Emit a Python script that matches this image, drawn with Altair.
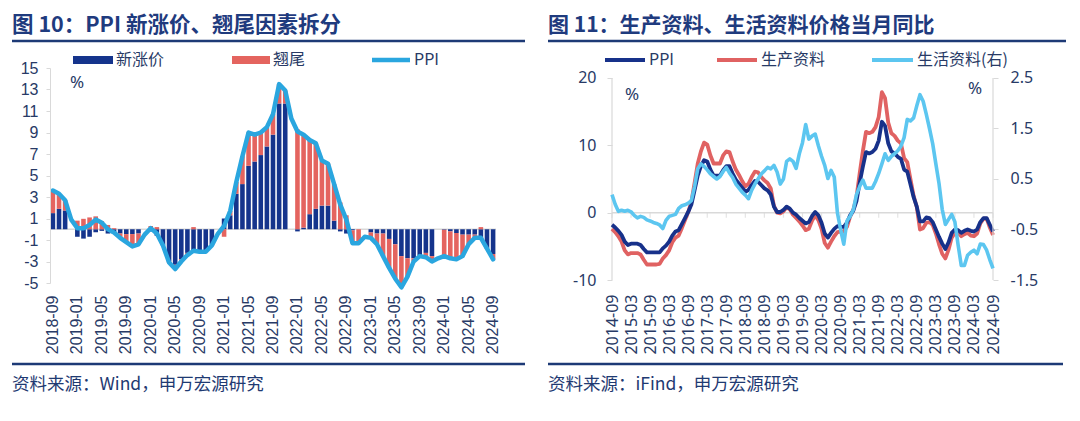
import altair as alt
import pandas as pd

# ---------------- data ----------------
left_dates = [str(p) for p in pd.period_range("2018-09", "2024-09", freq="M")]
right_dates = [str(p) for p in pd.period_range("2014-09", "2024-09", freq="M")]
left_ticks = left_dates[::4]
right_ticks = right_dates[::6]

# Fig 10: PPI, new-price factor (新涨价) and carry-over factor (翘尾)
ppi_left = [3.6, 3.3, 2.7, 0.9,
            0.1, 0.1, 0.4, 0.9, 0.6, 0.0, -0.3, -0.8, -1.2, -1.6, -1.4, -0.5,
            0.1, -0.4, -1.5, -3.1, -3.7, -3.0, -2.4, -2.0, -2.1, -2.1, -1.5, -0.4,
            0.3, 1.7, 4.4, 6.8, 9.0, 8.8, 9.0, 9.5, 10.7, 13.5, 12.9, 10.3,
            9.1, 8.8, 8.3, 8.0, 6.4, 6.1, 4.2, 2.3, 0.9, -1.3, -1.3, -0.7,
            -0.8, -1.4, -2.5, -3.6, -4.6, -5.4, -4.4, -3.0, -2.5, -2.6, -3.0, -2.7,
            -2.5, -2.7, -2.8, -2.5, -1.4, -0.8, -0.8, -1.8, -2.8]
new_price = [1.5, 1.9, 1.75, None,
             -0.7, -0.87, -0.7, -0.28, -0.15, -0.4, -0.4, -0.4, -0.45, -0.45, -0.4, None,
             -0.2, -0.6, -1.5, -3.0, -3.3, -2.8, -2.2, -2.2, -2.1, -2.0, -1.4, None,
             1.0, 1.3, 3.3, 4.2, 5.9, 6.3, 6.9, 7.7, 8.8, 11.7, 11.7, None,
             -0.2, 0.15, 1.4, 1.9, 2.2, 2.2, 0.8, -0.2, -0.4, -0.1, 0.0, None,
             -0.3, -0.4, -0.4, -0.9, -1.4, -2.5, -2.7, -2.7, -2.4, -2.2, -2.5, None,
             -0.05, -0.2, -0.35, -0.5, -0.5, -0.5, -1.0, -1.8, -2.3]
carry = [2.1, 1.3, 0.95, None,
         0.8, 0.97, 1.1, 1.2, 0.75, 0.4, 0.1, -0.4, -0.75, -1.15, -1.0, None,
         0.3, 0.2, 0.0, -0.1, -0.4, -0.2, -0.2, 0.2, 0.0, -0.1, -0.1, None,
         -0.7, 0.4, 1.1, 2.6, 3.1, 2.5, 2.1, 1.8, 1.9, 1.8, 1.2, None,
         9.3, 8.65, 6.9, 6.1, 4.2, 3.9, 3.4, 2.5, 1.3, -1.2, -1.3, None,
         -0.5, -1.0, -2.1, -2.7, -3.2, -2.9, -1.7, -0.3, -0.1, -0.4, -0.4, None,
         -2.45, -2.5, -2.4, -2.0, -0.9, -0.3, 0.2, 0.0, -0.5]

# Fig 11: PPI, producer goods (生产资料), consumer goods (生活资料, right axis)
ppi_right = [-1.8, -2.2, -2.7, -3.3,
             -4.3, -4.8, -4.6, -4.6, -4.6, -4.8, -5.4, -5.9, -5.9, -5.9, -5.9, -5.9,
             -5.3, -4.9, -4.3, -3.4, -2.8, -2.6, -1.7, -0.8, 0.1, 1.2, 3.3, 5.5,
             6.9, 7.8, 7.6, 6.4, 5.5, 5.5, 5.5, 6.3, 6.9, 6.9, 5.8, 4.9,
             4.3, 3.7, 3.1, 3.4, 4.1, 4.7, 4.6, 4.1, 3.6, 3.3, 2.7, 0.9,
             0.1, 0.1, 0.4, 0.9, 0.6, 0.0, -0.3, -0.8, -1.2, -1.6, -1.4, -0.5,
             0.1, -0.4, -1.5, -3.1, -3.7, -3.0, -2.4, -2.0, -2.1, -2.1, -1.5, -0.4,
             0.3, 1.7, 4.4, 6.8, 9.0, 8.8, 9.0, 9.5, 10.7, 13.5, 12.9, 10.3,
             9.1, 8.8, 8.3, 8.0, 6.4, 6.1, 4.2, 2.3, 0.9, -1.3, -1.3, -0.7,
             -0.8, -1.4, -2.5, -3.6, -4.6, -5.4, -4.4, -3.0, -2.5, -2.6, -3.0, -2.7,
             -2.5, -2.7, -2.8, -2.5, -1.4, -0.8, -0.8, -1.8, -2.8]
producer = [-2.4, -2.9, -3.5, -4.3,
            -5.6, -6.2, -6.0, -6.0, -6.0, -6.2, -7.0, -7.7, -7.7, -7.7, -7.7, -7.6,
            -6.8, -6.3, -5.6, -4.4, -3.7, -3.4, -2.3, -1.1, 0.1, 1.6, 4.4, 7.3,
            9.1, 10.4, 10.1, 8.5, 7.3, 7.3, 7.3, 8.5, 9.1, 9.0, 7.6, 6.4,
            5.6, 4.7, 3.9, 4.3, 5.3, 6.1, 6.0, 5.3, 4.8, 4.4, 3.6, 1.0,
            0.0, -0.1, 0.2, 0.8, 0.5, -0.3, -0.8, -1.3, -1.9, -2.6, -2.4, -1.2,
            -0.4, -1.1, -2.4, -4.5, -5.2, -4.3, -3.5, -2.9, -2.8, -2.8, -2.1, -0.6,
            0.4, 2.3, 5.8, 9.1, 12.0, 11.8, 12.0, 12.7, 14.2, 17.9, 17.0, 13.4,
            11.8, 11.4, 10.7, 10.3, 8.1, 7.5, 5.0, 2.5, 0.8, -2.5, -2.3, -1.5,
            -1.4, -1.8, -3.1, -4.7, -6.1, -6.8, -5.5, -3.7, -3.0, -3.0, -3.5, -3.2,
            -3.0, -3.4, -3.5, -3.1, -1.6, -0.9, -0.9, -2.2, -3.3]
consumer = [0.19, 0.0, -0.14, -0.12, -0.14, -0.12, -0.15, -0.22, -0.27, -0.24,
            -0.26, -0.31, -0.33, -0.36, -0.38, -0.41, -0.48, -0.32, -0.24, -0.22,
            -0.2, -0.08, -0.03, -0.01, 0.02, 0.07, 0.35, 0.7, 0.8, 0.75,
            0.68, 0.6, 0.55, 0.5, 0.55, 0.65, 0.73, 0.62, 0.53, 0.4,
            0.32, 0.24, 0.18, 0.11, 0.28, 0.4, 0.5, 0.6, 0.66, 0.73,
            0.7, 0.77, 0.64, 0.4, 0.5, 0.85, 0.9, 0.85, 0.71, 1.0,
            1.22, 1.58, 1.29, 1.35, 1.39, 1.16, 0.95, 0.77, 0.51, 0.67,
            0.54, -0.17, -0.5, -0.79, -0.33, -0.24, -0.11, 0.19, 0.35, 0.48,
            0.32, 0.32, 0.32, 0.45, 0.61, 0.8, 1.0, 0.87, 0.95, 1.0,
            1.06, 1.15, 1.32, 1.68, 1.65, 1.71, 1.95, 2.17, 2.04, 1.78,
            1.5, 1.2, 0.8, 0.41, -0.1, -0.4, -0.3, -0.2, -0.35, -0.8,
            -1.21, -1.21, -1.01, -0.95, -0.91, -0.98, -0.79, -0.8, -0.91, -1.1, -1.27]

assert len(ppi_left) == len(new_price) == len(carry) == len(left_dates)
assert len(ppi_right) == len(producer) == len(consumer) == len(right_dates)

# ---------------- styles ----------------
CJK = "Noto Sans CJK SC"
NUM_L = "Liberation Sans"
NUM_R = "Noto Sans"
TITLE_C = "#1f3b7e"
RULE_C = "#1d3a76"
LABEL_C = "#283a66"
SRC_C = "#1f3a72"
GRID = "#d9d9d9"
BAR_NAVY = "#15348c"
BAR_RED = "#e4645f"
PPI_CYAN = "#2aa6df"
LINE_NAVY = "#17318a"
LINE_RED = "#e06262"
LINE_LB = "#5cc6f0"
HYPHEN = "replace(datum.label, '\u2212', '-')"

W1, H1 = 446, 215
W2, H2 = 381, 212


def dec():
    return alt.Chart(alt.Data(values=[{"k": 1}]))


def text_mark(x, y, s, size, color, weight="normal", font=CJK, align="left"):
    return dec().mark_text(text=s, align=align, baseline="middle", font=font,
                           fontSize=size, fontWeight=weight, color=color).encode(
        x=alt.value(x), y=alt.value(y))


def hline(x1, x2, y, color, width):
    return dec().mark_rule(color=color, strokeWidth=width, strokeCap="butt").encode(
        x=alt.value(x1), x2=alt.value(x2), y=alt.value(y))


def box(x1, x2, y1, y2, color):
    return dec().mark_rect(color=color).encode(
        x=alt.value(x1), x2=alt.value(x2), y=alt.value(y1), y2=alt.value(y2))


# ---------------- left panel ----------------
rows = []
for d, n, c in zip(left_dates, new_price, carry):
    if n is not None:
        rows.append({"date": d, "series": "新涨价", "v": n, "o": 0})
    if c is not None:
        rows.append({"date": d, "series": "翘尾", "v": c, "o": 1})
df_bars = pd.DataFrame(rows)
df_ppiL = pd.DataFrame({"date": left_dates, "v": ppi_left})

xL = alt.X("date:N", sort=None,
           scale=alt.Scale(domain=left_dates, paddingInner=0.25, paddingOuter=0.1),
           axis=alt.Axis(values=left_ticks, labelAngle=270, labelPadding=12, labelFont=NUM_L,
                         labelFontSize=16, labelColor=LABEL_C, domain=False, ticks=False,
                         grid=False, title=None, labelOverlap=False, zindex=1))
axL = alt.Axis(values=list(range(-5, 16, 2)), labelFont=NUM_L, labelFontSize=16,
               labelColor=LABEL_C, domainColor=GRID, tickColor=GRID, tickSize=4,
               labelPadding=8, grid=False, title=None, zindex=1, labelExpr=HYPHEN)
scL = alt.Scale(domain=[-5, 15], nice=False, zero=False)

bg = box(-42, 1022, -60, 345, "white")
zeroL = dec().mark_rule(color=GRID, strokeWidth=1.5).encode(y=alt.YDatum(0, scale=scL, axis=axL))
bars = alt.Chart(df_bars).mark_bar().encode(
    x=xL,
    y=alt.Y("v:Q", stack="zero", scale=scL, axis=axL),
    color=alt.Color("series:N", scale=alt.Scale(domain=["新涨价", "翘尾"],
                                                range=[BAR_NAVY, BAR_RED]), legend=None),
    order=alt.Order("o:Q"),
)
lineL = alt.Chart(df_ppiL).mark_line(color=PPI_CYAN, strokeWidth=4.5, strokeJoin="round",
                                     strokeCap="round").encode(
    x=xL, y=alt.Y("v:Q", scale=scL, axis=axL))

left = alt.layer(
    bg, zeroL, bars, lineL,
    text_mark(-38, -42, "图 10：PPI 新涨价、翘尾因素拆分", 21.5, TITLE_C, "bold"),
    hline(-38, 475, -27, RULE_C, 2.5),
    hline(-38, 475, 296, RULE_C, 2.5),
    text_mark(-38, 317, "资料来源：Wind，申万宏源研究", 17.5, SRC_C),
    box(23, 63, -12, -4, BAR_NAVY),
    text_mark(66, -8, "新涨价", 16, LABEL_C),
    box(182, 220, -12, -4, BAR_RED),
    text_mark(223, -8, "翘尾", 16, LABEL_C),
    hline(322, 360, -8, PPI_CYAN, 4.5),
    text_mark(364, -8, "PPI", 16, LABEL_C),
    text_mark(27, 15, "%", 17, LABEL_C, font=NUM_R, align="center"),
).properties(width=W1, height=H1)

# ---------------- right panel ----------------
df_r = pd.DataFrame({"date": right_dates, "ppi": ppi_right, "prod": producer, "cons": consumer})
df_t = pd.DataFrame({"date": right_ticks})

xR = alt.X("date:N", sort=None,
           scale=alt.Scale(type="point", domain=right_dates, padding=0),
           axis=alt.Axis(values=right_ticks, labelAngle=270, labelPadding=14, labelFont=NUM_R,
                         labelFontSize=16, labelColor=LABEL_C, domain=False, ticks=False,
                         grid=False, title=None, labelOverlap=False))
axA = alt.Axis(values=[-10, 0, 10, 20], orient="left", labelFont=NUM_R, labelFontSize=16,
               labelColor=LABEL_C, domain=False, tickColor=GRID, tickSize=5,
               labelPadding=11, grid=False, title=None, labelExpr=HYPHEN)
scA = alt.Scale(domain=[-10, 21.485], nice=False, zero=False)
axB = alt.Axis(values=[-1.5, -0.5, 0.5, 1.5, 2.5], orient="right", format=".1f",
               labelFont=NUM_R, labelFontSize=16, labelColor=LABEL_C, domain=False,
               tickColor=GRID, tickSize=5, labelPadding=12, grid=False, title=None,
               labelExpr=HYPHEN)
scB = alt.Scale(domain=[-1.5, 2.698], nice=False, zero=False)

zeroR = dec().mark_rule(color=GRID, strokeWidth=1.5).encode(y=alt.YDatum(0, scale=scA, axis=axA))
axisLineA = dec().mark_rule(color=GRID, strokeWidth=1.2).encode(
    x=alt.value(0), y=alt.YDatum(20, scale=scA, axis=axA), y2=alt.Y2Datum(-10))
ticksR = alt.Chart(df_t).mark_tick(orient="vertical", size=5, thickness=1.2, color=GRID,
                                   yOffset=2.5).encode(
    x=xR, y=alt.YDatum(0, scale=scA, axis=axA))
redLine = alt.Chart(df_r).mark_line(color=LINE_RED, strokeWidth=3.8, strokeJoin="round").encode(
    x=xR, y=alt.Y("prod:Q", scale=scA, axis=axA))
navyLine = alt.Chart(df_r).mark_line(color=LINE_NAVY, strokeWidth=3.8, strokeJoin="round").encode(
    x=xR, y=alt.Y("ppi:Q", scale=scA, axis=axA))
layerA = alt.layer(zeroR, axisLineA, ticksR, redLine, navyLine)

axisLineB = dec().mark_rule(color=GRID, strokeWidth=1.2).encode(
    x=alt.value(W2), y=alt.YDatum(2.5, scale=scB, axis=axB), y2=alt.Y2Datum(-1.5))
lbLine = alt.Chart(df_r).mark_line(color=LINE_LB, strokeWidth=3.6, strokeJoin="round").encode(
    x=xR, y=alt.Y("cons:Q", scale=scB, axis=axB))
layerB = alt.layer(axisLineB, lbLine)

right = alt.layer(
    text_mark(-64, -42, "图 11：生产资料、生活资料价格当月同比", 21, TITLE_C, "bold"),
    hline(-64, 454, -27, RULE_C, 2.5),
    hline(-64, 451, 296, RULE_C, 2.5),
    text_mark(-64, 317, "资料来源：iFind，申万宏源研究", 17.5, SRC_C),
    hline(-7, 33, -8, LINE_NAVY, 4),
    text_mark(37, -8, "PPI", 16, LABEL_C),
    hline(105, 145, -8, LINE_RED, 4),
    text_mark(149, -8, "生产资料", 16, LABEL_C),
    hline(260, 301, -8, LINE_LB, 4),
    text_mark(305, -8, "生活资料(右)", 16, LABEL_C),
    text_mark(20, 27, "%", 17, LABEL_C, font=NUM_R, align="center"),
    text_mark(363, 21, "%", 17, LABEL_C, font=NUM_R, align="center"),
    layerA, layerB,
).resolve_scale(y="independent").properties(width=W2, height=H2)

chart = alt.hconcat(left, right, spacing=116, bounds="flush").properties(
    padding=0, background="white").configure_view(stroke=None)

chart.save("out.html", embed_options={"renderer": "svg", "actions": False})
